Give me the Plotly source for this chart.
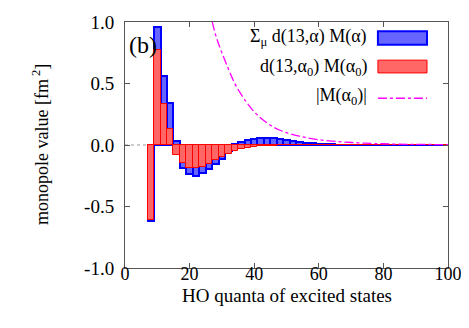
import plotly.graph_objects as go

# ---- data ----
quanta = list(range(8, 101, 2))
total_sum = [-0.62, 0.96, 0.56, 0.34, 0.03, -0.19, -0.235, -0.25, -0.23, -0.195,
             -0.155, -0.11, -0.05, 0.01, 0.025, 0.04, 0.052, 0.058, 0.058, 0.054,
             0.047, 0.04, 0.032, 0.025, 0.019, 0.014, 0.010, 0.007, 0.005, 0.004,
             0.003, 0.002, 0.002, 0.002, 0.002, 0.001, 0.001, 0.001, 0.001, 0.001,
             0.001, 0.001, 0.001, 0.001, 0.001, 0.001, 0.001]
single_term = [-0.61, 0.77, 0.33, 0.13, -0.08, -0.15, -0.185, -0.19, -0.18, -0.155,
               -0.125, -0.095, -0.07, -0.05, -0.035, -0.025, -0.018, -0.012, -0.008, -0.006,
               -0.004, -0.003, -0.002, -0.002, -0.002, -0.001, -0.001, -0.001, -0.001, -0.001,
               -0.001, -0.001, -0.001, -0.001, -0.001, -0.001, -0.001, -0.001, -0.001, -0.001,
               -0.001, -0.001, -0.001, -0.001, -0.001, -0.001, -0.001]
curve_x = [20, 22, 24, 26, 28, 30, 32, 34, 36, 38, 40, 42, 44, 46, 48, 50, 52, 54, 56,
           60, 64, 68, 72, 76, 80, 85, 90, 95, 100]
curve_y = [2.6, 1.9, 1.45, 1.13, 0.9, 0.75, 0.62, 0.5, 0.41, 0.335, 0.27, 0.22, 0.18,
           0.145, 0.12, 0.1, 0.085, 0.072, 0.06, 0.043, 0.032, 0.024, 0.018, 0.013,
           0.01, 0.007, 0.005, 0.004, 0.003]
x_ticks = [0, 20, 40, 60, 80, 100]
y_ticks = [-1.0, -0.5, 0.0, 0.5, 1.0]
y_tick_labels = ["-1.0", "-0.5", "0.0", "0.5", "1.0"]
legend_labels = ["Σ<sub>μ</sub> d(13,α) M(α)",
                 "d(13,α<sub>0</sub>) M(α<sub>0</sub>)",
                 "|M(α<sub>0</sub>)|"]
x_title = "HO quanta of excited states"
y_title = "monopole value [fm<sup> 2</sup>]"

FONT = "Liberation Serif"
BLUE_FILL = "rgb(102,102,255)"
RED_FILL = "rgb(255,102,102)"

fig = go.Figure()
fig.add_trace(go.Bar(x=quanta, y=total_sum, width=2,
                     marker=dict(color=BLUE_FILL, line=dict(color="rgb(0,0,255)", width=2)),
                     showlegend=False))
fig.add_trace(go.Bar(x=quanta, y=single_term, width=2,
                     marker=dict(color=RED_FILL, line=dict(color="rgb(255,0,0)", width=1)),
                     showlegend=False))
fig.add_trace(go.Scatter(x=curve_x, y=curve_y, mode="lines",
                         line=dict(color="rgb(255,0,255)", width=1.3, dash="dashdot", shape="spline"),
                         showlegend=False))

axis_common = dict(showline=True, linecolor="#555555", linewidth=1, mirror="ticks",
                   ticks="inside", ticklen=5, tickcolor="#555555", showgrid=False,
                   zeroline=False, automargin=False)

fig.update_xaxes(range=[0, 100], tickvals=x_ticks, ticklabelstandoff=-11,
                 tickfont=dict(family=FONT, size=18, color="black"), **axis_common)
fig.update_yaxes(range=[-1.0, 1.0], tickvals=y_ticks, ticktext=y_tick_labels,
                 ticklabelstandoff=6,
                 tickfont=dict(family=FONT, size=19, color="black"), **axis_common)

shapes = [
    dict(type="line", xref="paper", yref="y", x0=0, x1=1, y0=0, y1=0,
         line=dict(color="#999999", width=1, dash="dot"), layer="below"),
    # legend samples
    dict(type="rect", xref="paper", yref="paper", x0=0.783, x1=0.935, y0=0.908, y1=0.962,
         fillcolor=BLUE_FILL, line=dict(color="rgb(0,0,255)", width=2)),
    dict(type="rect", xref="paper", yref="paper", x0=0.783, x1=0.935, y0=0.793, y1=0.845,
         fillcolor=RED_FILL, line=dict(color="rgb(255,0,0)", width=1)),
    dict(type="line", xref="paper", yref="paper", x0=0.783, x1=0.935, y0=0.69, y1=0.69,
         line=dict(color="rgb(255,0,255)", width=1.3, dash="dashdot")),
]
legend_y = [0.935, 0.817, 0.699]
annotations = [dict(text=t, xref="paper", yref="paper", x=0.755, y=yy, xanchor="right",
                    yanchor="middle", showarrow=False,
                    font=dict(family=FONT, size=18, color="black"))
               for t, yy in zip(legend_labels, legend_y)]
annotations.append(dict(text="(b)", xref="paper", yref="paper", x=0.007, y=0.905,
                        xanchor="left", yanchor="middle", showarrow=False,
                        font=dict(family=FONT, size=24, color="black")))
annotations.append(dict(text=x_title, xref="paper", yref="paper", x=0.5, y=-0.11,
                        xanchor="center", yanchor="middle", showarrow=False,
                        font=dict(family=FONT, size=19, color="black")))
annotations.append(dict(text=y_title, xref="paper", yref="paper", x=-0.263, y=0.5,
                        xanchor="center", yanchor="middle", showarrow=False, textangle=-90,
                        font=dict(family=FONT, size=18, color="black")))

# the page adds an 8px body margin, so the figure is sized to fit the window
fig.update_layout(width=461, height=320, barmode="overlay", bargap=0,
                  margin=dict(l=117, r=21, t=14, b=60),
                  plot_bgcolor="white", paper_bgcolor="white",
                  shapes=shapes, annotations=annotations)

fig.write_html("out.html")
